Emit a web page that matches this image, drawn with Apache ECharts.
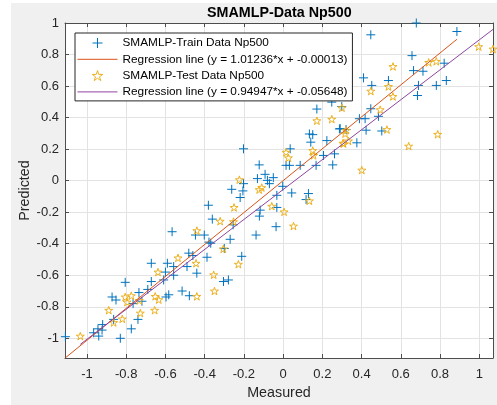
<!DOCTYPE html>
<html>
<head>
<meta charset="utf-8">
<script src="https://cdn.jsdelivr.net/npm/echarts@6/dist/echarts.min.js"></script>
<style>
html,body{margin:0;padding:0;background:#fff;}
#chart{width:497px;height:405px;}
</style>
</head>
<body>
<div id="chart"></div>
<script>
// ---- data ----
const chartTitle = 'SMAMLP-Data Np500';
const trainName = 'SMAMLP-Train Data Np500';
const testName = 'SMAMLP-Test Data Np500';
const trainSlope = 1.01236, trainIntercept = -0.00013;
const testSlope = 0.94947, testIntercept = -0.05648;
const trainLineName = 'Regression line (y = 1.01236*x + -0.00013)';
const testLineName = 'Regression line (y = 0.94947*x + -0.05648)';

const xTicks = [-1, -0.8, -0.6, -0.4, -0.2, 0, 0.2, 0.4, 0.6, 0.8, 1];
const yTicks = [-1, -0.8, -0.6, -0.4, -0.2, 0, 0.2, 0.4, 0.6, 0.8, 1];

const trainX = [-1.11, -0.966, -0.94, -0.923, -0.92, -0.944, -0.83, -0.774, -0.74, -0.864,
  -0.872, -0.852, -0.805, -0.765, -0.735, -0.72, -0.672, -0.69, -0.672, -0.609,
  -0.60, -0.59, -0.566, -0.597, -0.583, -0.558, -0.558, -0.49, -0.515, -0.478,
  -0.481, -0.46, -0.44, -0.447, -0.402, -0.388, -0.378, -0.304, -0.279, -0.30,
  -0.381, -0.361, -0.369, -0.27, -0.255, -0.211, -0.138, -0.202, -0.122, -0.131,
  -0.092, -0.07, -0.05, -0.08, -0.202, -0.205, -0.219, -0.262, -0.002, 0.044,
  -0.032, 0.129, 0.117, -0.032, -0.117, -0.121, -0.036, 0.036, 0.015, 0.032,
  0.087, 0.168, 0.253, 0.206, 0.262, 0.134, 0.151, 0.141, 0.223, 0.172,
  0.287, 0.248, 0.299, 0.291, 0.321, 0.376, 0.389, 0.418, 0.423, 0.447,
  0.486, 0.503, 0.41, 0.452, 0.447, 0.537, 0.657, 0.665, 0.713, 0.69,
  0.685, 0.781, 0.821, 0.832, 0.679, 0.886];
const trainY = [-0.99, -0.965, -0.986, -0.948, -0.913, -0.94, -1.0, -0.94, -0.88, -0.88,
  -0.738, -0.757, -0.645, -0.78, -0.71, -0.765, -0.64, -0.69, -0.524, -0.63,
  -0.58, -0.524, -0.324, -0.738, -0.724, -0.545, -0.60, -0.545, -0.70, -0.73,
  -0.46, -0.475, -0.587, -0.345, -0.345, -0.486, -0.39, -0.64, -0.63, -0.43,
  -0.156, -0.244, -0.397, -0.372, -0.28, -0.48, -0.345, 0.202, 0.10, 0.013,
  0.04, -0.019, 0.019, 0.002, -0.019, -0.065, -0.107, -0.055, -0.036, -0.078,
  -0.093, -0.082, -0.12, -0.17, -0.187, -0.225, -0.292, 0.202, 0.097, 0.097,
  0.097, 0.097, 0.10, 0.16, 0.17, 0.296, 0.292, 0.244, 0.254, 0.454,
  0.328, 0.498, 0.47, 0.33, 0.324, 0.24, 0.393, 0.393, 0.32, 0.456,
  0.408, 0.315, 0.652, 0.604, 0.925, 0.635, 0.793, 0.698, 0.694, 0.604,
  0.54, 0.604, 0.745, 0.635, 1.0, 0.946];

const testX = [-1.034, -0.889, -0.864, -0.82, -0.805, -0.796, -0.774, -0.728, -0.733, -0.655,
  -0.638, -0.652, -0.634, -0.536, -0.444, -0.44, -0.354, -0.35, -0.44, -0.305,
  -0.228, -0.321, -0.253, -0.25, -0.223, -0.122, -0.109, -0.058, 0.005, 0.053,
  0.134, 0.015, 0.027, 0.151, 0.155, 0.172, 0.248, 0.305, 0.30, 0.321,
  0.316, 0.308, 0.333, 0.401, 0.447, 0.495, 0.529, 0.537, 0.56, 0.56,
  0.64, 0.742, 0.781, 0.788, 0.997, 1.07];
const testY = [-0.986, -0.822, -0.90, -0.877, -0.738, -0.77, -0.73, -0.84, -0.76, -0.822,
  -0.58, -0.734, -0.755, -0.49, -0.524, -0.317, -0.597, -0.70, -0.734, -0.433,
  -0.53, -0.257, -0.26, -0.17, 0.006, -0.057, -0.044, -0.162, -0.198, -0.288,
  -0.128, 0.18, 0.145, 0.191, 0.16, 0.38, 0.39, 0.238, 0.462, 0.32,
  0.298, 0.235, 0.252, 0.067, 0.568, 0.45, 0.324, 0.597, 0.534, 0.724,
  0.219, 0.75, 0.757, 0.294, 0.85, 0.835];

// axis limits (tight, as in the reference)
const xMin = -1.112, xMax = 1.07;
const yMin = -1.125, yMax = 1.0;

// ---- build ----
const FONT = 'Liberation Sans, Arial, Helvetica, sans-serif';
const zip = (a, b) => a.map((v, i) => [v, b[i]]);
const regLine = (xs, m, c) => {
  const lo = Math.min(...xs), hi = Math.max(...xs);
  return [[lo, m * lo + c], [hi, m * hi + c]];
};
const plusPath = 'path://M5,0L5,10M0,5L10,5';
const starPath = 'path://M0,-5L1.123,-1.545L4.755,-1.545L1.816,0.59L2.939,4.045L0,1.91L-2.939,4.045L-1.816,0.59L-4.755,-1.545L-1.123,-1.545Z';

const axisColor = '#4d4d4d';
const gridColor = '#e3e3e3';
const trainColor = '#0072BD', trainLineColor = '#D95319';
const testColor = '#EDB120', testLineColor = '#8E45A0';

const chart = echarts.init(document.getElementById('chart'), null, {renderer: 'canvas'});
chart.setOption({
  animation: false,
  backgroundColor: '#f0f0f0',
  graphic: [
    {type: 'rect', left: 0, top: 0, shape: {width: 11, height: 405}, style: {fill: '#ffffff'}, silent: true},
    {type: 'rect', left: 0, top: 0, shape: {width: 497, height: 3}, style: {fill: '#ffffff'}, silent: true}
  ],
  title: {
    text: chartTitle, left: 207, top: 6, padding: 0,
    textStyle: {fontFamily: FONT, fontSize: 14.3, fontWeight: 'bold', color: '#000'}
  },
  grid: {left: 65, top: 23, width: 428, height: 336, show: true, backgroundColor: '#ffffff', borderWidth: 0},
  legend: {
    orient: 'vertical', left: 75, top: 33, padding: [4, 5, 3, 2],
    itemWidth: 40, itemHeight: 10, itemGap: 4.3,
    backgroundColor: '#ffffff', borderColor: '#262626', borderWidth: 1,
    textStyle: {fontFamily: FONT, fontSize: 11.8, color: '#000'},
    itemStyle: {borderWidth: 1},
    selectedMode: false,
    data: [
      {name: trainName},
      {name: trainLineName, itemStyle: {opacity: 0}, lineStyle: {width: 1}},
      {name: testName},
      {name: testLineName, itemStyle: {opacity: 0}, lineStyle: {width: 1}}
    ]
  },
  xAxis: [{
    type: 'value', min: xMin, max: xMax, position: 'bottom',
    name: 'Measured', nameLocation: 'middle', nameGap: 28, nameMoveOverlap: false,
    nameTextStyle: {fontFamily: FONT, fontSize: 14.3, color: '#262626'},
    axisLine: {show: true, onZero: false, lineStyle: {color: axisColor, width: 1}},
    axisTick: {show: true, inside: true, length: 4, customValues: xTicks, lineStyle: {color: axisColor}},
    axisLabel: {customValues: xTicks, margin: 10, fontFamily: FONT, fontSize: 13, color: '#262626'},
    splitLine: {show: true, lineStyle: {color: gridColor, width: 1}}
  }, {
    type: 'value', min: xMin, max: xMax, position: 'top',
    axisLine: {show: true, onZero: false, lineStyle: {color: axisColor, width: 1}},
    axisTick: {show: true, inside: true, length: 4, customValues: xTicks, lineStyle: {color: axisColor}},
    axisLabel: {show: false},
    splitLine: {show: false}
  }],
  yAxis: [{
    type: 'value', min: yMin, max: yMax, position: 'left',
    name: 'Predicted', nameLocation: 'middle', nameGap: 33, nameRotate: 90, nameMoveOverlap: false,
    nameTextStyle: {fontFamily: FONT, fontSize: 14.3, color: '#262626'},
    axisLine: {show: true, onZero: false, lineStyle: {color: axisColor, width: 1}},
    axisTick: {show: true, inside: true, length: 4, customValues: yTicks, lineStyle: {color: axisColor}},
    axisLabel: {customValues: yTicks, margin: 6, fontFamily: FONT, fontSize: 13, color: '#262626'},
    splitLine: {show: true, lineStyle: {color: gridColor, width: 1}}
  }, {
    type: 'value', min: yMin, max: yMax, position: 'right',
    axisLine: {show: true, onZero: false, lineStyle: {color: axisColor, width: 1}},
    axisTick: {show: true, inside: true, length: 4, customValues: yTicks, lineStyle: {color: axisColor}},
    axisLabel: {show: false},
    splitLine: {show: false}
  }],
  series: [{
    name: trainName, type: 'scatter', xAxisIndex: 0, yAxisIndex: 0,
    data: zip(trainX, trainY), symbol: plusPath, symbolSize: 9, symbolKeepAspect: true,
    itemStyle: {color: 'rgba(0,0,0,0)', borderColor: trainColor, borderWidth: 1, opacity: 1},
    emphasis: {disabled: true}
  }, {
    name: trainLineName, type: 'line', xAxisIndex: 0, yAxisIndex: 0,
    data: regLine(trainX, trainSlope, trainIntercept), symbol: 'none',
    lineStyle: {color: trainLineColor, width: 1}, itemStyle: {color: trainLineColor},
    emphasis: {disabled: true}
  }, {
    name: testName, type: 'scatter', xAxisIndex: 0, yAxisIndex: 0,
    data: zip(testX, testY), symbol: starPath, symbolSize: 8, symbolKeepAspect: true,
    itemStyle: {color: 'rgba(0,0,0,0)', borderColor: testColor, borderWidth: 1, opacity: 1},
    emphasis: {disabled: true}
  }, {
    name: testLineName, type: 'line', xAxisIndex: 0, yAxisIndex: 0,
    data: regLine(testX, testSlope, testIntercept), symbol: 'none',
    lineStyle: {color: testLineColor, width: 1}, itemStyle: {color: testLineColor},
    emphasis: {disabled: true}
  }]
});
</script>
</body>
</html>
